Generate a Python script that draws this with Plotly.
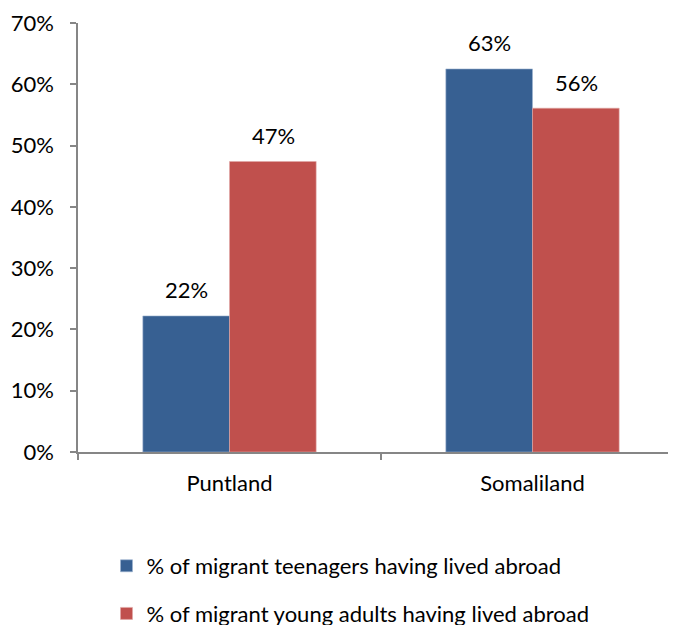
import plotly.graph_objects as go

categories = ["Puntland", "Somaliland"]
teen_values = [22.2, 62.5]
young_values = [47.4, 56.1]
teen_labels = ["22%", "63%"]
young_labels = ["47%", "56%"]
series_names = ["% of migrant teenagers having lived abroad",
                "% of migrant young adults having lived abroad"]
y_ticks = [0, 10, 20, 30, 40, 50, 60, 70]
y_tick_text = ["0%", "10%", "20%", "30%", "40%", "50%", "60%", "70%"]

BLUE = "#376092"
RED = "#C0504D"
FONT = "Lato"
FS = 22
AX = "#868686"
W, H = 676, 617

fig = go.Figure()
fig.add_trace(go.Bar(x=categories, y=teen_values, name=series_names[0],
                     marker=dict(color=BLUE, line=dict(color="#9DB3D0", width=0.6)),
                     legendgroup="a"))
fig.add_trace(go.Bar(x=categories, y=young_values, name=series_names[1],
                     marker=dict(color=RED, line=dict(color="#E0A8A6", width=0.6)),
                     legendgroup="b"))

annotations = []
for i, c in enumerate(categories):
    annotations.append(dict(x=c, y=teen_values[i], text=teen_labels[i], xref="x", yref="y",
                            showarrow=False, xshift=-43, yshift=26, yanchor="middle",
                            font=dict(family=FONT, size=FS, color="#000")))
    annotations.append(dict(x=c, y=young_values[i], text=young_labels[i], xref="x", yref="y",
                            showarrow=False, xshift=44, yshift=26, yanchor="middle",
                            font=dict(family=FONT, size=FS, color="#000")))

fig.update_layout(
    width=W, height=H,
    margin=dict(l=70, r=0, t=15, b=173, autoexpand=False),
    paper_bgcolor="white", plot_bgcolor="white",
    barmode="group", bargap=0.428, bargroupgap=0,
    font=dict(family=FONT, size=FS, color="#000"),
    annotations=annotations,
    showlegend=True,
    legend=dict(orientation="v", x=98.5 / W, xref="container", xanchor="left",
                y=1 - 537 / H, yref="container", yanchor="top",
                traceorder="grouped", tracegroupgap=16,
                font=dict(family=FONT, size=FS, color="#000"),
                bgcolor="rgba(0,0,0,0)"),
    xaxis=dict(range=[-0.5, 1.5], showline=True, linecolor=AX, linewidth=1.5,
               ticks="outside", tickson="boundaries", ticklen=6, tickcolor=AX, tickwidth=1.5,
               tickangle=0, ticklabelstandoff=11, showgrid=False, zeroline=False),
    yaxis=dict(range=[0, 70], tickvals=y_ticks, ticktext=y_tick_text,
               showline=True, linecolor=AX, linewidth=1.5,
               ticks="outside", ticklen=6, tickcolor=AX, tickwidth=1.5,
               ticklabelstandoff=12, showgrid=False, zeroline=False),
)

fig.write_html("out.html")
